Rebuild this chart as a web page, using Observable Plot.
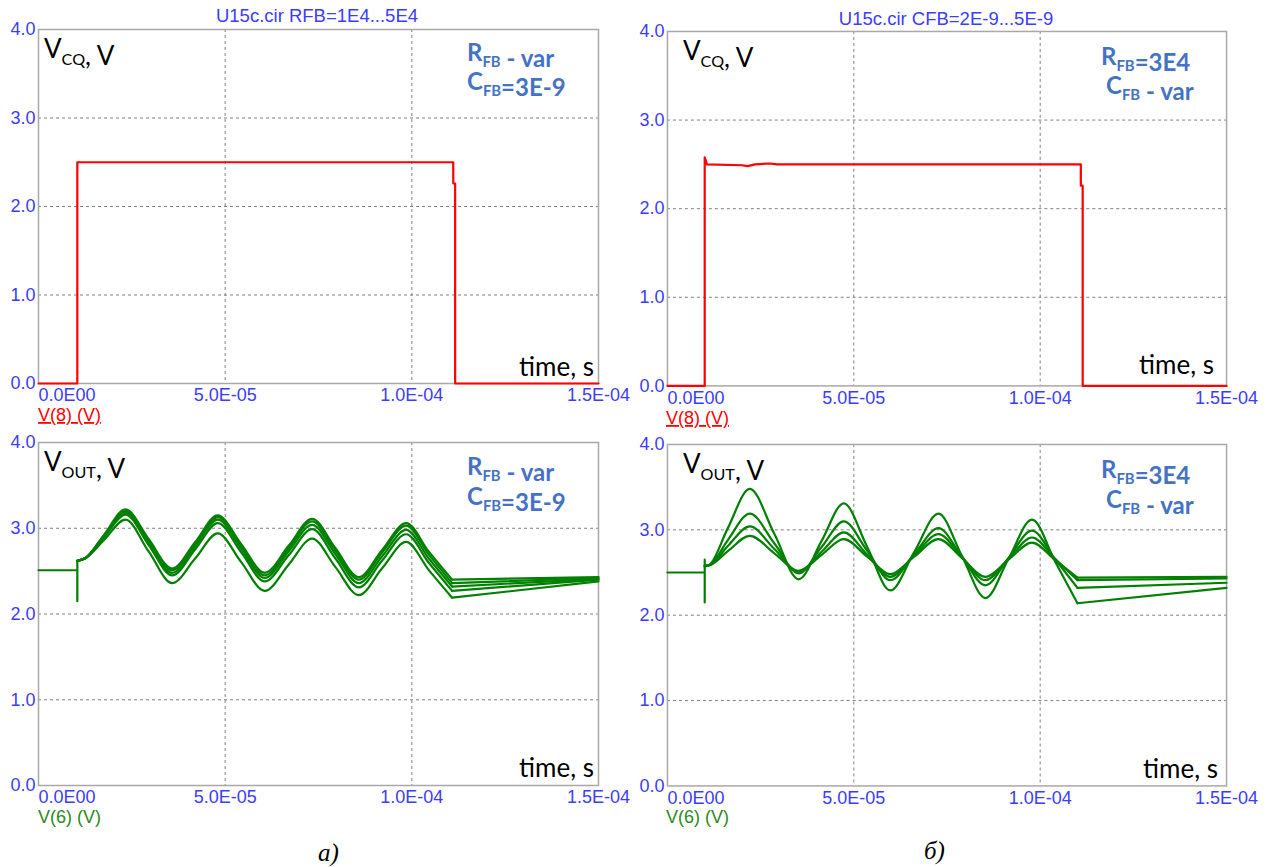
<!DOCTYPE html>
<html><head><meta charset="utf-8">
<script src="https://cdn.jsdelivr.net/npm/d3@7"></script>
<script src="https://cdn.jsdelivr.net/npm/@observablehq/plot@0.6"></script>
<style>
body{margin:0;background:#fff;}
#page{position:relative;width:1266px;height:867px;overflow:hidden;background:#fff;}
.pnl{position:absolute;}
#ov{position:absolute;left:0;top:0;pointer-events:none;}
</style></head>
<body><div id="page"></div>
<script>
// ---- axis ticks ----
const xTicks = [0, 5e-5, 1e-4, 1.5e-4];
const xTickLabels = ["0.0E00", "5.0E-05", "1.0E-04", "1.5E-04"];
const yTicks = [0, 1, 2, 3, 4];
const yTickLabels = ["0.0", "1.0", "2.0", "3.0", "4.0"];

// ---- V(8) pulse, panel a ----
const cqA_t = [0, 1.04e-5, 1.04e-5, 1.111e-4, 1.111e-4, 1.116e-4, 1.116e-4, 1.5e-4];
const cqA_v = [0, 0, 2.5, 2.5, 2.26, 2.26, 0, 0];
// ---- V(8) pulse, panel б ----
const cqB_t = [0, 1.0e-5, 1.0e-5, 1.06e-5, 2.0e-5, 2.15e-5, 2.35e-5, 2.75e-5, 2.95e-5, 1.109e-4, 1.109e-4, 1.114e-4, 1.114e-4, 1.5e-4];
const cqB_v = [0, 0, 2.58, 2.5, 2.49, 2.48, 2.5, 2.51, 2.5, 2.5, 2.26, 2.26, 0, 0];

// ---- V(6), panel a (RFB = 1E4..5E4) ----
const outA_preT = [0, 1.04e-5, 1.04e-5, 1.04e-5];
const outA_preV = [2.51, 2.51, 2.15, 2.62];
const outA_t = [1.04e-5, 1.25e-5, 1.75e-5, 2.33e-5, 2.95e-5, 3.58e-5, 4.2e-5, 4.8e-5, 5.43e-5, 6.06e-5, 6.7e-5, 7.33e-5, 7.95e-5, 8.58e-5, 9.2e-5, 9.85e-5, 1.045e-4, 1.108e-4];
const outA_1 = [2.62, 2.65, 2.92, 3.22, 2.875, 2.53, 2.84, 3.15, 2.815, 2.48, 2.795, 3.11, 2.77, 2.43, 2.745, 3.06, 2.73, 2.40];
const outA_2 = [2.62, 2.65, 2.91, 3.20, 2.855, 2.51, 2.82, 3.13, 2.79, 2.45, 2.765, 3.08, 2.74, 2.40, 2.715, 3.03, 2.695, 2.36];
const outA_3 = [2.62, 2.65, 2.90, 3.18, 2.83, 2.48, 2.79, 3.10, 2.76, 2.42, 2.73, 3.04, 2.70, 2.36, 2.67, 2.98, 2.65, 2.32];
const outA_4 = [2.62, 2.65, 2.89, 3.16, 2.805, 2.45, 2.755, 3.06, 2.72, 2.38, 2.685, 2.99, 2.65, 2.31, 2.62, 2.93, 2.60, 2.27];
const outA_5 = [2.62, 2.65, 2.86, 3.10, 2.73, 2.36, 2.65, 2.94, 2.605, 2.27, 2.575, 2.88, 2.55, 2.22, 2.53, 2.84, 2.515, 2.19];
const outA_endT = 1.5e-4;
const outA_end = [2.43, 2.42, 2.41, 2.40, 2.38];

// ---- V(6), panel б (CFB = 2E-9..5E-9) ----
const outB_preT = [0, 1.0e-5, 1.0e-5, 1.0e-5];
const outB_preV = [2.50, 2.50, 2.15, 2.65];
const outB_t = [1.0e-5, 1.15e-5, 1.62e-5, 2.21e-5, 2.87e-5, 3.52e-5, 4.13e-5, 4.73e-5, 5.36e-5, 5.98e-5, 6.62e-5, 7.27e-5, 7.9e-5, 8.53e-5, 9.15e-5, 9.78e-5, 1.04e-4, 1.10e-4];
const outB_1 = [2.57, 2.60, 3.02, 3.48, 2.95, 2.42, 2.865, 3.31, 2.80, 2.29, 2.74, 3.19, 2.695, 2.20, 2.66, 3.12, 2.63, 2.14];
const outB_2 = [2.57, 2.59, 2.88, 3.19, 2.84, 2.49, 2.795, 3.10, 2.755, 2.41, 2.715, 3.02, 2.685, 2.35, 2.67, 2.99, 2.655, 2.32];
const outB_3 = [2.58, 2.59, 2.81, 3.04, 2.775, 2.51, 2.74, 2.97, 2.71, 2.45, 2.70, 2.95, 2.68, 2.41, 2.66, 2.91, 2.66, 2.41];
const outB_4 = [2.58, 2.59, 2.75, 2.93, 2.725, 2.52, 2.705, 2.89, 2.685, 2.48, 2.685, 2.89, 2.67, 2.45, 2.65, 2.85, 2.645, 2.44];
const outB_endT = 1.5e-4;
const outB_end = [2.32, 2.38, 2.43, 2.45];

// ---- build tables ----
const pts = (T, V) => T.map((t, i) => ({t, v: V[i]}));
function family(T, series, endT, ends) {
  const osc = [], tail = [];
  series.forEach((V, k) => {
    T.forEach((t, i) => osc.push({s: k, t, v: V[i]}));
    tail.push({s: k, t: T[T.length - 1], v: V[V.length - 1]});
    tail.push({s: k, t: endT, v: ends[k]});
  });
  return {osc, tail};
}
const famA = family(outA_t, [outA_1, outA_2, outA_3, outA_4, outA_5], outA_endT, outA_end);
const famB = family(outB_t, [outB_1, outB_2, outB_3, outB_4], outB_endT, outB_end);

const TICK = "#3c3cff", RED = "#ff0000", GREEN = "#008000";
const ML = 38, MR = 40, MT = 20, MB = 30;
const page = document.getElementById("page");

function panel(frame, dataMarks) {
  const [x0, x1, y0, y1] = frame;
  const fmtX = d => xTickLabels[xTicks.indexOf(d)];
  const fmtY = d => yTickLabels[yTicks.indexOf(d)];
  const p = Plot.plot({
    width: ML + (x1 - x0) + MR, height: MT + (y1 - y0) + MB,
    marginLeft: ML, marginRight: MR, marginTop: MT, marginBottom: MB,
    x: {domain: [0, 1.5e-4]}, y: {domain: [0, 4]},
    style: {background: "transparent", overflow: "visible", fontFamily: "'Liberation Sans', Arial, sans-serif"},
    marks: [
      Plot.gridX([5e-5, 1e-4], {stroke: "#808080", strokeOpacity: 1, strokeWidth: 1, strokeDasharray: "3,3"}),
      Plot.gridY([1, 2, 3], {stroke: "#808080", strokeOpacity: 1, strokeWidth: 1, strokeDasharray: "3,3"}),
      Plot.frame({stroke: "#a8a8a8", strokeWidth: 1.5}),
      Plot.axisY(yTicks, {tickSize: 0, tickPadding: 3, tickFormat: fmtY, fill: TICK, fontSize: 18, label: null}),
      Plot.axisX(xTicks.slice(0, 1), {tickSize: 0, tickPadding: 5, tickFormat: fmtX, textAnchor: "start", fill: TICK, fontSize: 18, label: null}),
      Plot.axisX(xTicks.slice(1), {tickSize: 0, tickPadding: 5, tickFormat: fmtX, fill: TICK, fontSize: 18, label: null}),
      ...dataMarks
    ]
  });
  const d = document.createElement("div");
  d.className = "pnl";
  d.style.left = (x0 - ML) + "px";
  d.style.top = (y0 - MT) + "px";
  d.appendChild(p);
  page.appendChild(d);
}

const lin = {x: "t", y: "v", strokeWidth: 2.2};
panel([38, 598, 29, 383], [Plot.line(pts(cqA_t, cqA_v), {...lin, stroke: RED})]);
panel([667, 1227, 31, 386], [Plot.line(pts(cqB_t, cqB_v), {...lin, stroke: RED})]);
panel([38, 598, 442, 785], [
  Plot.line(pts(outA_preT, outA_preV), {...lin, stroke: GREEN}),
  Plot.line(famA.osc, {...lin, z: "s", stroke: GREEN, curve: "monotone-x"}),
  Plot.line(famA.tail, {...lin, z: "s", stroke: GREEN})
]);
panel([667, 1227, 444, 786], [
  Plot.line(pts(outB_preT, outB_preV), {...lin, stroke: GREEN}),
  Plot.line(famB.osc, {...lin, z: "s", stroke: GREEN, curve: "monotone-x"}),
  Plot.line(famB.tail, {...lin, z: "s", stroke: GREEN})
]);

// ---- overlay text ----
const svg = d3.select(page).append("svg").attr("id", "ov").attr("width", 1266).attr("height", 867);
function txt(x, y, parts, o = {}) {
  const size = o.size || 26;
  const t = svg.append("text").attr("x", x).attr("y", y)
    .attr("font-family", o.family || "Lato, 'Open Sans', sans-serif")
    .attr("font-size", size)
    .attr("font-weight", o.weight || "normal")
    .attr("font-style", o.style || "normal")
    .attr("fill", o.fill || "#000")
    .attr("text-anchor", o.anchor || "start");
  if (o.deco) t.attr("text-decoration", o.deco);
  for (const p of parts) {
    if (typeof p === "string") t.append("tspan").text(p);
    else {
      t.append("tspan").attr("font-size", size * 0.62).attr("dy", Math.round(size * 0.25)).text(p.sub);
      t.append("tspan").attr("dy", -Math.round(size * 0.25)).text("");
    }
  }
  return t;
}
const sans = {family: "'Liberation Sans', Arial, sans-serif", size: 18.5, fill: TICK};
txt(317, 22, ["U15c.cir RFB=1E4...5E4"], {...sans, anchor: "middle"});
txt(946, 25, ["U15c.cir CFB=2E-9...5E-9"], {...sans, anchor: "middle"});

const BLUE = {fill: "#4472c4", weight: "bold", size: 24};
// panel a top
txt(44, 58, ["V", {sub: "CQ"}, ", V"]);
txt(467, 61, ["R", {sub: "FB"}, " - var"], BLUE);
txt(467, 90, ["C", {sub: "FB"}, "=3E-9"], BLUE);
txt(594, 376, ["time, s"], {anchor: "end"});
// panel б top
txt(683, 60, ["V", {sub: "CQ"}, ", V"]);
txt(1101, 65, ["R", {sub: "FB"}, "=3E4"], BLUE);
txt(1106, 94, ["C", {sub: "FB"}, " - var"], BLUE);
txt(1214, 374, ["time, s"], {anchor: "end"});
// panel a bottom
txt(44, 471, ["V", {sub: "OUT"}, ", V"]);
txt(467, 475, ["R", {sub: "FB"}, " - var"], BLUE);
txt(467, 505, ["C", {sub: "FB"}, "=3E-9"], BLUE);
txt(594, 777, ["time, s"], {anchor: "end"});
// panel б bottom
txt(683, 473, ["V", {sub: "OUT"}, ", V"]);
txt(1101, 478, ["R", {sub: "FB"}, "=3E4"], BLUE);
txt(1106, 508, ["C", {sub: "FB"}, " - var"], BLUE);
txt(1218, 778, ["time, s"], {anchor: "end"});

// legends
const leg = {family: "'Liberation Sans', Arial, sans-serif", size: 18};
txt(38, 421, ["V(8) (V)"], {...leg, fill: RED, deco: "underline"});
txt(666, 424, ["V(8) (V)"], {...leg, fill: RED, deco: "underline"});
txt(38, 823, ["V(6) (V)"], {...leg, fill: "#2a8a1a"});
txt(666, 823, ["V(6) (V)"], {...leg, fill: "#2a8a1a"});
// captions
const cap = {family: "'Liberation Serif', serif", size: 25, style: "italic"};
txt(318, 861, ["a)"], cap);
txt(924, 859, ["б)"], cap);
</script></body></html>
